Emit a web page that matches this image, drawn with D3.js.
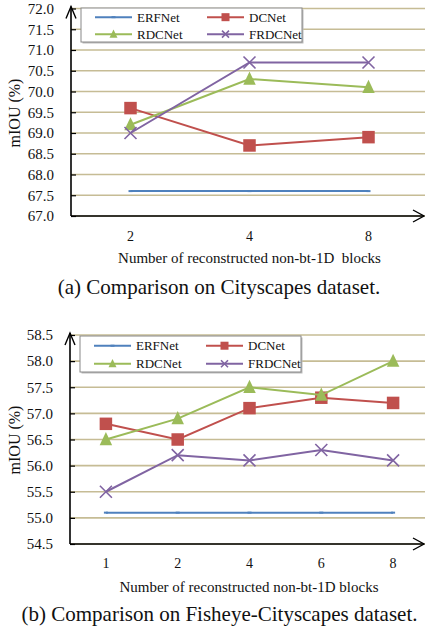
<!DOCTYPE html>
<html><head><meta charset="utf-8">
<script src="https://cdn.jsdelivr.net/npm/d3@7"></script>
<style>body{margin:0;background:#fff}svg{display:block}svg text{font-family:"Liberation Serif",serif !important;fill:#111}</style>
</head><body>
<script>
const seriesNames = ["ERFNet","DCNet","RDCNet","FRDCNet"];
const seriesColors = ["#4F81BD","#C0504D","#9BBB59","#8064A2"];
const markers = ["dash","square","triangle","cross"];

const catsA = ["2","4","8"];
const erfA = [67.6,67.6,67.6];
const dcA = [69.6,68.7,68.9];
const rdcA = [69.2,70.3,70.1];
const frdcA = [69.0,70.7,70.7];
const yTicksA = [67.0,67.5,68.0,68.5,69.0,69.5,70.0,70.5,71.0,71.5,72.0];

const catsB = ["1","2","4","6","8"];
const erfB = [55.1,55.1,55.1,55.1,55.1];
const dcB = [56.8,56.5,57.1,57.3,57.2];
const rdcB = [56.5,56.9,57.5,57.35,58.0];
const frdcB = [55.5,56.2,56.1,56.3,56.1];
const yTicksB = [54.5,55.0,55.5,56.0,56.5,57.0,57.5,58.0,58.5];

const xTitleA = "Number of reconstructed non-bt-1D\u00a0 blocks";
const xTitleB = "Number of reconstructed non-bt-1D blocks";
const captionA = "(a) Comparison on Cityscapes dataset.";
const captionB = "(b) Comparison on Fisheye-Cityscapes dataset.";
const yTitle = "mIOU (%)";

const svg = d3.select("body").append("svg").attr("width",425).attr("height",631)
  .attr("font-family","Liberation Serif");

function drawMarker(g, type, color, x, y, s){
  if(type==="square"){
    g.append("rect").attr("x",x-s/2).attr("y",y-s/2).attr("width",s).attr("height",s).attr("fill",color);
  } else if(type==="triangle"){
    const h=s;
    g.append("path").attr("d",`M${x},${y-h*0.6}L${x+s/2},${y+h*0.45}L${x-s/2},${y+h*0.45}Z`).attr("fill",color);
  } else if(type==="cross"){
    const r=s/2;
    g.append("path").attr("d",`M${x-r},${y-r}L${x+r},${y+r}M${x-r},${y+r}L${x+r},${y-r}`).attr("stroke",color).attr("stroke-width",1.6).attr("fill","none");
  } else {
    g.append("path").attr("d",`M${x-2},${y}L${x+2},${y}`).attr("stroke",color).attr("stroke-width",2);
  }
}

function chart(cfg){
  const g = svg.append("g");
  const x = d3.scaleBand().domain(cfg.cats).range([cfg.x0, cfg.x1]);
  const y = d3.scaleLinear().domain(cfg.yDom).range([cfg.yb, cfg.yt]);
  // gridlines
  g.append("g").selectAll("line").data(cfg.ticks).join("line")
    .attr("x1",cfg.x0).attr("x2",425).attr("y1",d=>y(d)).attr("y2",d=>y(d))
    .attr("stroke","#C6BC95").attr("stroke-width",1.6);
  // y axis
  const ya = d3.axisLeft(y).tickValues(cfg.ticks).tickFormat(d3.format(".1f")).tickSizeInner(-5).tickSizeOuter(0).tickPadding(17);
  const yg = g.append("g").attr("transform",`translate(${cfg.x0},0)`).call(ya).attr("font-family",null);
  yg.select(".domain").remove();
  yg.selectAll("line").attr("stroke","#000").attr("stroke-width",1.2);
  yg.selectAll("text").attr("font-size",15).attr("fill","#111");
  // axis lines with arrows
  g.append("line").attr("x1",cfg.x0).attr("x2",cfg.x0).attr("y1",cfg.yb).attr("y2",cfg.yt-2).attr("stroke","#000").attr("stroke-width",1.6);
  g.append("path").attr("d",`M${cfg.x0-5},${cfg.yt+10}L${cfg.x0},${cfg.yt-2}L${cfg.x0+5},${cfg.yt+10}`).attr("fill","none").attr("stroke","#000").attr("stroke-width",1.4);
  g.append("line").attr("x1",cfg.x0).attr("x2",424).attr("y1",cfg.yb).attr("y2",cfg.yb).attr("stroke","#000").attr("stroke-width",1.6);
  g.append("path").attr("d",`M${413},${cfg.yb-6}L${424},${cfg.yb}L${413},${cfg.yb+6}`).attr("fill","none").attr("stroke","#000").attr("stroke-width",1.4);
  // x axis labels
  const xa = d3.axisBottom(x).tickSize(0).tickPadding(cfg.tickPad);
  const xg = g.append("g").attr("transform",`translate(0,${cfg.yb})`).call(xa).attr("font-family",null);
  xg.select(".domain").remove();
  xg.selectAll("text").attr("font-size",14).attr("fill","#111");
  // titles
  g.append("text").attr("x",cfg.xTitleX).attr("y",cfg.xTitleY).attr("text-anchor","middle").attr("font-size",15).text(cfg.xTitle);
  g.append("text").attr("transform",`translate(20,${cfg.yTitleY}) rotate(-90)`).attr("text-anchor","middle").attr("font-size",16).text(yTitle);
  g.append("text").attr("x",cfg.capX).attr("y",cfg.capY).attr("text-anchor","middle").attr("font-size",21).text(cfg.caption);
  // series
  const cx = d=>x(d)+x.bandwidth()/2;
  cfg.series.forEach((vals,i)=>{
    const line = d3.line().x((v,j)=>cx(cfg.cats[j])).y(v=>y(v));
    g.append("path").attr("d",line(vals)).attr("fill","none").attr("stroke",seriesColors[i]).attr("stroke-width",2);
    const mg = g.append("g");
    vals.forEach((v,j)=>drawMarker(mg,markers[i],seriesColors[i],cx(cfg.cats[j]),y(v),i===3?12:12.5));
  });
  // legend
  const lg = g.append("g");
  lg.append("rect").attr("x",cfg.lx+1.5).attr("y",cfg.ly+1.5).attr("width",221).attr("height",cfg.lh).attr("fill","#bbb");
  lg.append("rect").attr("x",cfg.lx).attr("y",cfg.ly).attr("width",221).attr("height",cfg.lh).attr("fill","#fff").attr("stroke","#888").attr("stroke-width",1);
  seriesNames.forEach((n,i)=>{
    const col=i%2, row=Math.floor(i/2);
    const sx = cfg.lx + (col? 126:14), yy = cfg.ly + cfg.lh*0.27 + row*cfg.lh*0.5;
    lg.append("line").attr("x1",sx).attr("x2",sx+37).attr("y1",yy).attr("y2",yy).attr("stroke",seriesColors[i]).attr("stroke-width",2);
    drawMarker(lg,markers[i],seriesColors[i],sx+18.5,yy,i===3?7:8);
    lg.append("text").attr("x",sx+42).attr("y",yy).attr("dy","0.35em").attr("font-size",13).text(n);
  });
}

chart({cats:catsA, x0:71, x1:428, yDom:[67,72], yb:216, yt:8.5, ticks:yTicksA, tickPad:15, xTitle:xTitleA,
  series:[erfA,dcA,rdcA,frdcA], xTitleX:249.5, xTitleY:263, yTitleY:113, capX:219, capY:294, caption:captionA,
  lx:81, ly:8, lh:34});
chart({cats:catsB, x0:70, x1:429, yDom:[54.5,58.5], yb:544, yt:335, ticks:yTicksB, tickPad:14, xTitle:xTitleB,
  series:[erfB,dcB,rdcB,frdcB], xTitleX:249, xTitleY:592, yTitleY:440, capX:219.5, capY:621, caption:captionB,
  lx:80, ly:336, lh:36});
</script>
</body></html>
